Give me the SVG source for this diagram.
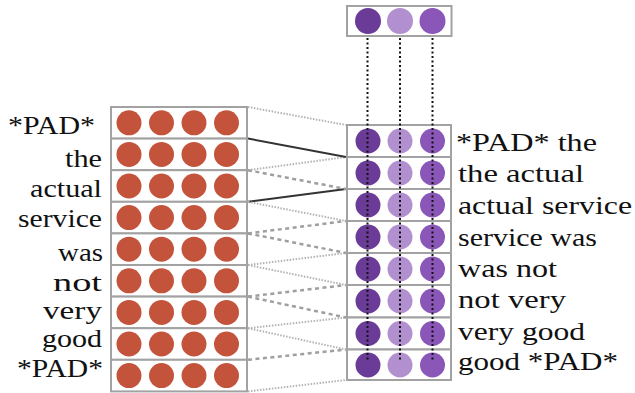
<svg xmlns="http://www.w3.org/2000/svg" width="635" height="393" viewBox="0 0 635 393">
  <style>
    .row { fill: #ffffff; stroke: #a2a2a2; stroke-width: 2; }
    .emb { fill: #c4533b; }
    .pd { fill: #6a3c98; }
    .pl { fill: #b28fcf; }
    .pm { fill: #8a56b8; }
    text { font-family: 'Liberation Serif', 'Times New Roman', serif; font-size: 26px; fill: #111111; }
    .dot { fill: none; stroke: #b3b3b3; stroke-width: 2; stroke-dasharray: 1.5 1.5; }
    .dash { fill: none; stroke: #9f9f9f; stroke-width: 2.5; stroke-dasharray: 4 3.5; }
    .solid { fill: none; stroke: #333333; stroke-width: 2; }
    .vdot { fill: none; stroke: #111111; stroke-width: 2; stroke-dasharray: 2 2.5; }
  </style>
  <defs>
    <g id="orow">
      <circle class="emb" cx="129" cy="0" r="12.5"/>
      <circle class="emb" cx="161.5" cy="0" r="12.5"/>
      <circle class="emb" cx="194" cy="0" r="12.5"/>
      <circle class="emb" cx="226.5" cy="0" r="12.5"/>
    </g>
    <g id="prow">
      <circle class="pd" cx="368" cy="0" r="12.5"/>
      <circle class="pl" cx="400" cy="0" r="12.5"/>
      <circle class="pm" cx="432.5" cy="0" r="12.5"/>
    </g>
  </defs>
  <rect width="635" height="393" fill="#ffffff"/>

  <!-- connectors -->
  <g id="connectors">
    <line class="dot" x1="248" y1="107" x2="346" y2="125"/>
    <line class="dot" x1="248" y1="170.2" x2="346" y2="157"/>
    <line class="solid" x1="248" y1="138.6" x2="346" y2="157"/>
    <line class="solid" x1="248" y1="201.8" x2="346" y2="189"/>
    <line class="dash" x1="248" y1="170.2" x2="346" y2="189"/>
    <line class="dash" x1="248" y1="233.4" x2="346" y2="221"/>
    <line class="dot" x1="248" y1="201.8" x2="346" y2="221"/>
    <line class="dot" x1="248" y1="265" x2="346" y2="253"/>
    <line class="dash" x1="248" y1="233.4" x2="346" y2="253"/>
    <line class="dash" x1="248" y1="296.6" x2="346" y2="285"/>
    <line class="dot" x1="248" y1="265" x2="346" y2="285"/>
    <line class="dot" x1="248" y1="328.2" x2="346" y2="317.5"/>
    <line class="dash" x1="248" y1="296.6" x2="346" y2="317.5"/>
    <line class="dash" x1="248" y1="359.8" x2="346" y2="349.5"/>
    <line class="dot" x1="248" y1="328.2" x2="346" y2="349.5"/>
    <line class="dot" x1="248" y1="391.4" x2="346" y2="380"/>
  </g>

  <!-- left: word embeddings -->
  <g id="w0"><rect class="row" x="111" y="107" width="136" height="31.6"/><use href="#orow" y="122.8"/><text font-family="Liberation Serif, serif" x="8" y="134" textLength="87" lengthAdjust="spacingAndGlyphs">*PAD*</text></g>
  <g id="w1"><rect class="row" x="111" y="138.6" width="136" height="31.6"/><use href="#orow" y="154.4"/><text font-family="Liberation Serif, serif" x="65" y="167" textLength="37" lengthAdjust="spacingAndGlyphs">the</text></g>
  <g id="w2"><rect class="row" x="111" y="170.2" width="136" height="31.6"/><use href="#orow" y="186"/><text font-family="Liberation Serif, serif" x="30" y="197" textLength="72" lengthAdjust="spacingAndGlyphs">actual</text></g>
  <g id="w3"><rect class="row" x="111" y="201.8" width="136" height="31.6"/><use href="#orow" y="217.6"/><text font-family="Liberation Serif, serif" x="18" y="227" textLength="84" lengthAdjust="spacingAndGlyphs">service</text></g>
  <g id="w4"><rect class="row" x="111" y="233.4" width="136" height="31.6"/><use href="#orow" y="249.2"/><text font-family="Liberation Serif, serif" x="58" y="261" textLength="45" lengthAdjust="spacingAndGlyphs">was</text></g>
  <g id="w5"><rect class="row" x="111" y="265" width="136" height="31.6"/><use href="#orow" y="280.8"/><text font-family="Liberation Serif, serif" x="53" y="291" textLength="49" lengthAdjust="spacingAndGlyphs">not</text></g>
  <g id="w6"><rect class="row" x="111" y="296.6" width="136" height="31.6"/><use href="#orow" y="312.4"/><text font-family="Liberation Serif, serif" x="43" y="319" textLength="59" lengthAdjust="spacingAndGlyphs">very</text></g>
  <g id="w7"><rect class="row" x="111" y="328.2" width="136" height="31.6"/><use href="#orow" y="344"/><text font-family="Liberation Serif, serif" x="42" y="347" textLength="60" lengthAdjust="spacingAndGlyphs">good</text></g>
  <g id="w8"><rect class="row" x="111" y="359.8" width="136" height="31.6"/><use href="#orow" y="375.6"/><text font-family="Liberation Serif, serif" x="17" y="377" textLength="86" lengthAdjust="spacingAndGlyphs">*PAD*</text></g>

  <!-- right: bigram features -->
  <g id="b0"><rect class="row" x="347" y="125" width="104" height="32"/><use href="#prow" y="141"/><text font-family="Liberation Serif, serif" x="456" y="151" textLength="141" lengthAdjust="spacingAndGlyphs">*PAD* the</text></g>
  <g id="b1"><rect class="row" x="347" y="157" width="104" height="32"/><use href="#prow" y="173"/><text font-family="Liberation Serif, serif" x="458" y="182" textLength="126" lengthAdjust="spacingAndGlyphs">the actual</text></g>
  <g id="b2"><rect class="row" x="347" y="189" width="104" height="32"/><use href="#prow" y="205"/><text font-family="Liberation Serif, serif" x="458" y="214" textLength="174" lengthAdjust="spacingAndGlyphs">actual service</text></g>
  <g id="b3"><rect class="row" x="347" y="221" width="104" height="32"/><use href="#prow" y="237"/><text font-family="Liberation Serif, serif" x="458" y="246" textLength="139" lengthAdjust="spacingAndGlyphs">service was</text></g>
  <g id="b4"><rect class="row" x="347" y="253" width="104" height="32"/><use href="#prow" y="269"/><text font-family="Liberation Serif, serif" x="458" y="277" textLength="99" lengthAdjust="spacingAndGlyphs">was not</text></g>
  <g id="b5"><rect class="row" x="347" y="285" width="104" height="32.5"/><use href="#prow" y="301"/><text font-family="Liberation Serif, serif" x="458" y="308" textLength="108" lengthAdjust="spacingAndGlyphs">not very</text></g>
  <g id="b6"><rect class="row" x="347" y="317.5" width="104" height="32"/><use href="#prow" y="333.5"/><text font-family="Liberation Serif, serif" x="458" y="340" textLength="127" lengthAdjust="spacingAndGlyphs">very good</text></g>
  <g id="b7"><rect class="row" x="347" y="349.5" width="104" height="30.5"/><use href="#prow" y="365"/><text font-family="Liberation Serif, serif" x="458" y="370" textLength="160" lengthAdjust="spacingAndGlyphs">good *PAD*</text></g>

  <!-- top: filter -->
  <g id="filter"><rect class="row" x="347" y="6" width="104.5" height="30"/><circle class="pd" cx="368" cy="21" r="13"/><circle class="pl" cx="400" cy="21" r="13"/><circle class="pm" cx="432.5" cy="21" r="13"/></g>

  <g id="filter-links">
    <line class="vdot" x1="367.5" y1="38" x2="367.5" y2="362"/>
    <line class="vdot" x1="400" y1="38" x2="400" y2="362"/>
    <line class="vdot" x1="432.5" y1="38" x2="432.5" y2="362"/>
  </g>
</svg>
